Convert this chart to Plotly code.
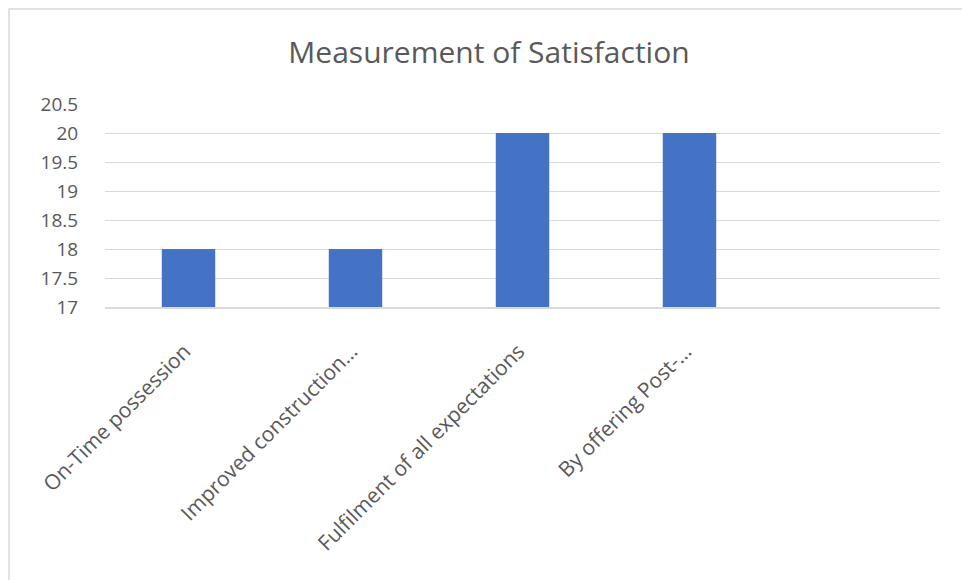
import plotly.graph_objects as go

categories = ["On-Time possession", "Improved construction…", "Fulfilment of all expectations", "By offering Post-…", " "]
values = [18, 18, 20, 20, None]
y_ticks = [17, 17.5, 18, 18.5, 19, 19.5, 20, 20.5]
y_tick_labels = ["17", "17.5", "18", "18.5", "19", "19.5", "20", "20.5"]

W, H = 962, 580
L, R, T, B = 105, 22, 104, 273
pw, ph = W - L - R, H - T - B

def px_to_paper_x(px):
    return (px - L) / pw

def px_to_paper_y(py):
    return (H - B - py) / ph

fig = go.Figure(go.Bar(x=categories, y=values, marker=dict(color="#4472C4", line=dict(width=0)),
                       width=0.32))

fig.update_layout(
    width=W, height=H,
    margin=dict(l=L, r=R, t=T, b=B, pad=0),
    paper_bgcolor="white", plot_bgcolor="white",
    font=dict(family="Open Sans, Segoe UI, sans-serif", color="#595959"),
    title=dict(text="Measurement of Satisfaction", x=489 / W, xanchor="center", xref="container",
               y=1 - 52 / H, yanchor="middle", yref="container",
               font=dict(size=30, color="#595959", family="Open Sans, sans-serif")),
    showlegend=False,
    xaxis=dict(type="category", tickangle=-45, tickfont=dict(size=21, color="#595959"),
               showgrid=False, showline=True, linecolor="#D9D9D9", linewidth=1.5,
               ticks="", fixedrange=True, ticklabelstandoff=22, ticklabelshift=-4),
    yaxis=dict(range=[17, 20.5], tickvals=y_ticks, ticktext=y_tick_labels,
               tickfont=dict(size=19, color="#595959"),
               showgrid=True, gridcolor="#D9D9D9", gridwidth=1.3, zeroline=False,
               showline=False, ticks="outside", ticklen=22, tickcolor="white"),
    shapes=[dict(type="rect", xref="paper", yref="paper",
                 x0=px_to_paper_x(9), x1=px_to_paper_x(975),
                 y0=px_to_paper_y(595), y1=px_to_paper_y(9),
                 line=dict(color="#D9D9D9", width=1.5), fillcolor="rgba(0,0,0,0)", layer="below")],
)

fig.write_html("out.html")
